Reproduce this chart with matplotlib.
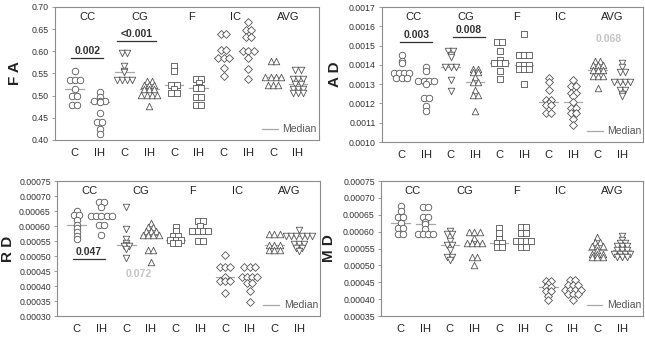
import numpy as np
import matplotlib
matplotlib.use("Agg")
import matplotlib.pyplot as plt
from matplotlib.ticker import FormatStrFormatter, MultipleLocator
from matplotlib.transforms import offset_copy

plt.rcParams['font.family'] = ['Liberation Sans', 'DejaVu Sans']

# group order: CC-C, CC-IH, CG-C, CG-IH, F-C, F-IH, IC-C, IC-IH, AVG-C, AVG-IH
regions = ['CC', 'CG', 'F', 'IC', 'AVG']
region_x = [1.5, 3.6, 5.7, 7.5, 9.6]
xlabels = ['C', 'IH'] * 5
markers = ['o', 'o', 'v', '^', 's', 's', 'D', 'D', '^', 'v']

fa_vals = [
    [0.555, 0.535, 0.535, 0.535, 0.514, 0.500, 0.500, 0.480, 0.480],
    [0.508, 0.498, 0.488, 0.488, 0.488, 0.485, 0.462, 0.441, 0.441, 0.425, 0.413],
    [0.596, 0.596, 0.567, 0.556, 0.553, 0.536, 0.536, 0.536, 0.536],
    [0.532, 0.532, 0.525, 0.525, 0.525, 0.515, 0.515, 0.515, 0.502, 0.502, 0.502, 0.502, 0.476],
    [0.566, 0.555, 0.523, 0.523, 0.516, 0.505, 0.505],
    [0.538, 0.538, 0.528, 0.520, 0.517, 0.517, 0.496, 0.496, 0.478, 0.478],
    [0.638, 0.638, 0.604, 0.604, 0.584, 0.584, 0.584, 0.563, 0.544],
    [0.665, 0.648, 0.648, 0.633, 0.633, 0.601, 0.601, 0.601, 0.585, 0.560, 0.538],
    [0.578, 0.578, 0.541, 0.541, 0.541, 0.541, 0.524, 0.524, 0.524],
    [0.558, 0.558, 0.537, 0.537, 0.537, 0.527, 0.527, 0.516, 0.516, 0.516, 0.507, 0.507, 0.507],
]
ad_vals = [
    [0.00145, 0.00142, 0.00141, 0.00136, 0.00136, 0.00136, 0.00136, 0.00133, 0.00133, 0.00133],
    [0.00139, 0.001368, 0.001316, 0.001316, 0.001316, 0.001316, 0.0013, 0.001226, 0.001226, 0.001186, 0.00116],
    [0.00147, 0.00147, 0.00145, 0.00144, 0.00139, 0.00139, 0.00139, 0.00132, 0.001266],
    [0.00138, 0.00138, 0.001365, 0.001365, 0.001335, 0.00131, 0.00131, 0.00127, 0.001243, 0.001243, 0.00116],
    [0.00152, 0.00152, 0.00147, 0.001426, 0.00141, 0.00141, 0.00141, 0.00137, 0.001327],
    [0.00156, 0.00145, 0.00145, 0.00145, 0.0014, 0.0014, 0.0014, 0.00138, 0.00138, 0.00138, 0.0013],
    [0.00133, 0.00131, 0.00127, 0.00122, 0.00122, 0.0012, 0.00119, 0.00119, 0.00115, 0.00115],
    [0.00132, 0.00129, 0.00129, 0.001255, 0.001255, 0.00124, 0.00121, 0.001175, 0.001175, 0.00115, 0.00115, 0.00112, 0.00109],
    [0.00142, 0.00142, 0.0014, 0.0014, 0.0014, 0.001372, 0.001372, 0.001372, 0.00134, 0.00134, 0.00134, 0.00128],
    [0.00141, 0.00139, 0.001365, 0.001365, 0.001312, 0.001312, 0.001312, 0.001312, 0.00127, 0.00127, 0.00125, 0.00124],
]
rd_vals = [
    [0.00065, 0.000637, 0.000637, 0.00062, 0.000605, 0.000593, 0.00058, 0.000568, 0.000556],
    [0.00068, 0.00068, 0.000663, 0.000635, 0.000635, 0.000635, 0.000635, 0.000635, 0.000605, 0.000605, 0.00057],
    [0.000662, 0.00059, 0.000558, 0.000545, 0.000537, 0.000534, 0.000534, 0.000524, 0.000494],
    [0.00061, 0.000597, 0.000597, 0.000584, 0.000584, 0.000584, 0.000571, 0.000571, 0.000571, 0.000571, 0.000521, 0.000521, 0.000479],
    [0.000597, 0.000582, 0.000567, 0.000567, 0.000554, 0.000554, 0.000554, 0.000543, 0.000543],
    [0.000616, 0.000616, 0.0006, 0.000582, 0.000582, 0.000582, 0.000582, 0.000551, 0.000551],
    [0.000503, 0.000464, 0.000464, 0.000464, 0.00043, 0.000418, 0.000418, 0.000418, 0.000378],
    [0.000463, 0.000463, 0.000463, 0.00043, 0.00043, 0.00043, 0.00043, 0.00041, 0.00041, 0.000383, 0.000348],
    [0.000573, 0.000573, 0.000573, 0.000538, 0.000538, 0.000538, 0.000521, 0.000521, 0.000521],
    [0.000588, 0.000567, 0.000567, 0.000567, 0.000567, 0.000567, 0.000567, 0.00054, 0.00054, 0.00054, 0.000528, 0.000528, 0.000516],
]
md_vals = [
    [0.000675, 0.00066, 0.000642, 0.000642, 0.000626, 0.00061, 0.00061, 0.000593, 0.000593],
    [0.000673, 0.000673, 0.000643, 0.000643, 0.00063, 0.000622, 0.000608, 0.000593, 0.000593, 0.000593, 0.000593],
    [0.000603, 0.000593, 0.000593, 0.000573, 0.00056, 0.00056, 0.000547, 0.000525, 0.000525, 0.000515],
    [0.0006, 0.0006, 0.0006, 0.00058, 0.000565, 0.000565, 0.000565, 0.000565, 0.000525, 0.000525, 0.000502],
    [0.000612, 0.000595, 0.000578, 0.000565, 0.000565, 0.000555, 0.000555],
    [0.000615, 0.000615, 0.000595, 0.000595, 0.000573, 0.000573, 0.000573, 0.000573, 0.000555, 0.000555],
    [0.000455, 0.000455, 0.000445, 0.000437, 0.000437, 0.000425, 0.000425, 0.00041, 0.000398],
    [0.000458, 0.000458, 0.000442, 0.000442, 0.000442, 0.000428, 0.000428, 0.000428, 0.000428, 0.000415, 0.000415, 0.000415, 0.000398],
    [0.000585, 0.00057, 0.00057, 0.000556, 0.000556, 0.000556, 0.000545, 0.000535, 0.000535, 0.000535, 0.000525, 0.000525, 0.000525],
    [0.000588, 0.000576, 0.000566, 0.000566, 0.000556, 0.000556, 0.000556, 0.000545, 0.000545, 0.000545,
     0.000535, 0.000535, 0.000535, 0.000535, 0.000525, 0.000525, 0.000525],
]

# (text, x, y, underlined, grey)
fa_notes = [('0.002', 1.5, 0.590, True, False), ('<0.001', 3.5, 0.628, True, False)]
ad_notes = [('0.003', 1.6, 0.00153, True, False), ('0.008', 3.75, 0.001556, True, False),
            ('0.068', 9.45, 0.00151, False, True)]
rd_notes = [('0.047', 1.5, 0.000497, True, False), ('0.072', 3.5, 0.000425, False, True)]
md_notes = []

panels = [
    ('F A', fa_vals, fa_notes, (0.40, 0.70), 0.05, '%.2f', [0.0853, 0.5846, 0.4093, 0.3947], -0.125),
    ('A D', ad_vals, ad_notes, (0.0010, 0.0017), 0.0001, '%.4f', [0.5922, 0.5786, 0.4047, 0.4006], -0.155),
    ('R D', rd_vals, rd_notes, (0.00030, 0.00075), 0.00005, '%.5f', [0.0884, 0.0623, 0.4078, 0.4006], -0.158),
    ('M D', md_vals, md_notes, (0.00035, 0.00075), 0.00005, '%.5f', [0.5907, 0.0623, 0.4062, 0.4006], -0.17),
]

edge = '#555555'
spine_c = '#8c8c8c'
med_c = '#a8a8a8'


def spread(vals, pos, w=0.21):
    vals = np.asarray(vals)
    xs = np.full(len(vals), float(pos))
    for v in np.unique(vals):
        idx = np.where(vals == v)[0]
        n = len(idx)
        xs[idx] = pos + (np.arange(n) - (n - 1) / 2) * w
    return xs


fig = plt.figure(figsize=(6.45, 3.37), dpi=100)

for label, vals, notes, ylim, step, fmt, rect, lab_x in panels:
    ax = fig.add_axes(rect)
    for i, g in enumerate(vals):
        pos = i + 1
        xs = spread(g, pos)
        ms = 16 if markers[i] == 'D' else 22
        ax.scatter(xs, g, marker=markers[i], s=ms, facecolors='white',
                   edgecolors=edge, linewidths=0.6, zorder=3)
        m = np.median(g)
        ax.plot([pos - 0.38, pos + 0.38], [m, m], color=med_c, lw=0.9, zorder=2)

    ax.set_xlim(0.2, 10.85)
    ax.set_ylim(*ylim)
    ax.yaxis.set_major_locator(MultipleLocator(step))
    ax.yaxis.set_major_formatter(FormatStrFormatter(fmt))
    ax.set_xticks(range(1, 11))
    ax.set_xticklabels(xlabels)
    ax.tick_params(axis='x', length=0, pad=6, labelsize=8, labelcolor='#222222')
    ax.tick_params(axis='y', length=2.5, width=0.6, color=spine_c, pad=2,
                   labelsize=6.3, labelcolor='#333333')
    for sp in ax.spines.values():
        sp.set_color(spine_c)
        sp.set_linewidth(0.8)

    ax.set_ylabel(label, fontsize=11, fontweight='bold', color='#222222')
    ax.yaxis.set_label_coords(lab_x, 0.5)

    for name, rx in zip(regions, region_x):
        ax.text(rx, 0.925, name, transform=ax.get_xaxis_transform(),
                ha='center', va='center', fontsize=8, color='#222222')

    for txt, x, y, under, grey in notes:
        col = '#c4c4c4' if grey else '#333333'
        ax.text(x, y, txt, ha='center', va='bottom', fontsize=7.5,
                fontweight='bold', color=col, zorder=4)
        if under:
            half = 0.13 * len(txt)
            tr = offset_copy(ax.transData, fig=fig, y=-1.5, units='points')
            ax.plot([x - half, x + half], [y, y], color=col, lw=0.9, transform=tr)

    ax.plot([0.785, 0.845], [0.085, 0.085], transform=ax.transAxes,
            color=med_c, lw=0.9)
    ax.text(0.862, 0.085, 'Median', transform=ax.transAxes, va='center',
            fontsize=7.5, color='#555555')

fig.savefig('out.png', dpi=100)
